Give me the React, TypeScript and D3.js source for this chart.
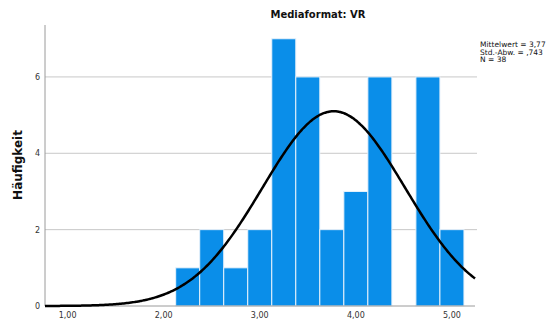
import React from "react";
import * as d3 from "d3";

// Histogram bins (lower edges, width 0.25) and their counts
const binStarts = [2.125, 2.375, 2.625, 2.875, 3.125, 3.375, 3.625, 3.875, 4.125, 4.375, 4.625, 4.875];
const counts = [1, 2, 1, 2, 7, 6, 2, 3, 6, 0, 6, 2];
const binWidth = 0.25;

// Summary statistics for the normal curve
const mean = 3.77;
const sd = 0.743;
const n = 38;

const xTicks = [1, 2, 3, 4, 5];
const yTicks = [0, 2, 4, 6];
const statLines = ["Mittelwert = 3,77", "Std.-Abw. = ,743", "N = 38"];

const W = 553;
const H = 320;
const left = 45;
const right = 475;
const top = 25;
const bottom = 306;

const fmt = (v: number) => v.toFixed(2).replace(".", ",");

export default function App() {
  const x = d3.scaleLinear().domain([0.765, 5.24]).range([left, right]);
  const y = d3.scaleLinear().domain([0, 7.36]).range([bottom, top]);

  const density = (v: number) =>
    (n * binWidth) / (sd * Math.sqrt(2 * Math.PI)) * Math.exp(-0.5 * ((v - mean) / sd) ** 2);
  const [x0, x1] = x.domain();
  const pts = d3.range(0, 301).map((i) => x0 + ((x1 - x0) * i) / 300);
  const line = d3
    .line<number>()
    .x((v) => x(v))
    .y((v) => y(density(v)))
    .curve(d3.curveBasis);

  const font = "'DejaVu Sans', Verdana, sans-serif";

  return (
    <svg width={W} height={H} style={{ position: "absolute", left: 0, top: 0, background: "#fff" }}>
      <text x={318} y={18} textAnchor="middle" fontFamily={font} fontSize={10} fontWeight="bold" fill="#111">
        Mediaformat: VR
      </text>

      {/* grid lines */}
      {yTicks.filter((t) => t > 0).map((t) => (
        <line key={t} x1={left} x2={right + 2} y1={y(t)} y2={y(t)} stroke="#c8c8c8" strokeWidth={1} />
      ))}

      {/* bars */}
      {binStarts.map((b, i) =>
        counts[i] > 0 ? (
          <rect
            key={b}
            x={x(b)}
            y={y(counts[i])}
            width={x(b + binWidth) - x(b)}
            height={y(0) - y(counts[i])}
            fill="#0a8ee9"
            stroke="#e8f2fb"
            strokeWidth={1}
          />
        ) : null
      )}

      {/* axes */}
      <line x1={left} x2={left} y1={top} y2={bottom} stroke="#9a9a9a" strokeWidth={1} />
      <line x1={left} x2={right} y1={bottom} y2={bottom} stroke="#9a9a9a" strokeWidth={1} />

      {yTicks.map((t) => (
        <text key={t} x={left - 5} y={y(t) + 3} textAnchor="end" fontFamily={font} fontSize={8} fill="#333">
          {t}
        </text>
      ))}
      {xTicks.map((t) => (
        <text key={t} x={x(t)} y={318} textAnchor="middle" fontFamily={font} fontSize={8} fill="#333">
          {fmt(t)}
        </text>
      ))}

      <text
        transform={`translate(22, ${165}) rotate(-90)`}
        textAnchor="middle"
        fontFamily={font}
        fontSize={12}
        fontWeight="bold"
        fill="#111"
      >
        Häufigkeit
      </text>

      {/* normal curve */}
      <path d={line(pts) || ""} fill="none" stroke="#000" strokeWidth={2.5} />

      {statLines.map((s, i) => (
        <text key={s} x={480} y={47 + i * 7.5} fontFamily={font} fontSize={7.5} fill="#111">
          {s}
        </text>
      ))}
    </svg>
  );
}
